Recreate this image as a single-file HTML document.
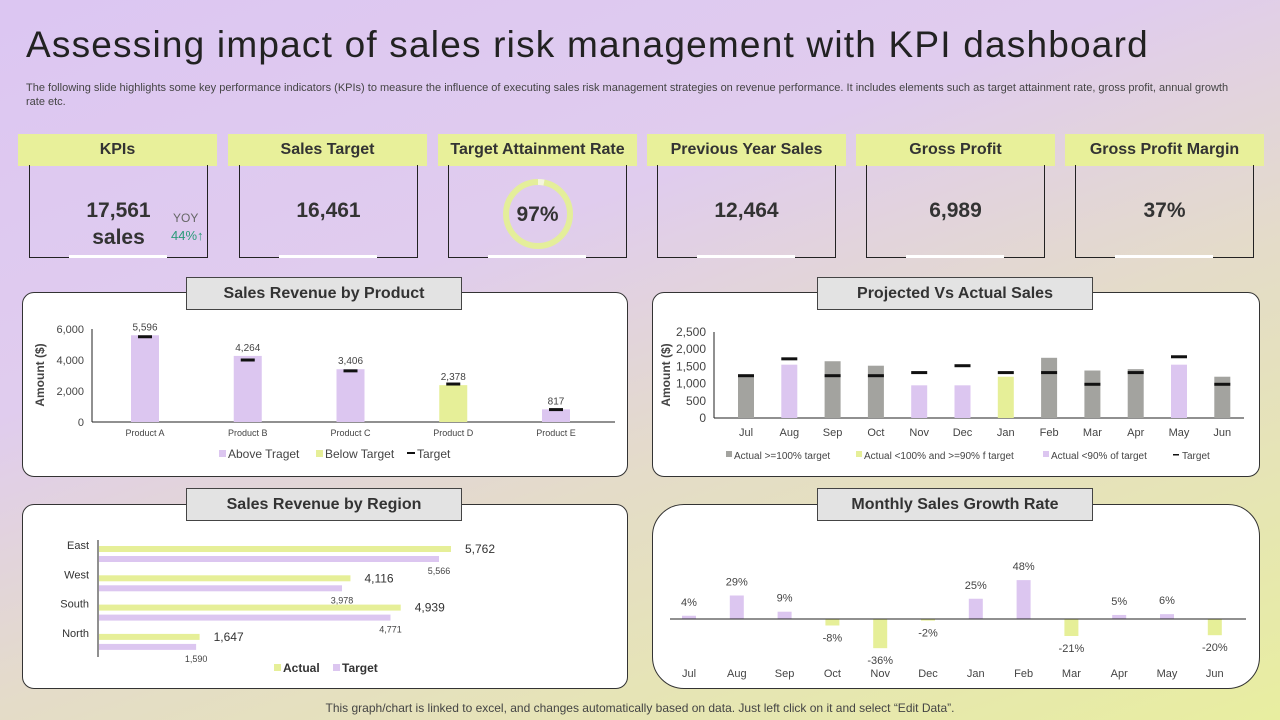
<!DOCTYPE html>
<html><head><meta charset="utf-8">
<style>
*{box-sizing:border-box;margin:0;padding:0}
body{width:1280px;height:720px;overflow:hidden;font-family:"Liberation Sans",sans-serif;position:relative;
background:linear-gradient(160deg,#dcc6f2 0%,#e0ccee 35%,#e4dcc8 60%,#e8eea0 100%);}
.abs{position:absolute}
h1{position:absolute;left:26px;top:24px;font-size:37px;font-weight:normal;color:#222;letter-spacing:1.2px;white-space:nowrap}
.sub{position:absolute;left:26px;top:81px;width:1212px;font-size:11px;color:#444;line-height:14px}
.kh{position:absolute;top:134px;width:199px;height:32px;background:#e8f09a;text-align:center;font-size:16px;font-weight:bold;color:#333;line-height:32px}
.kb{position:absolute;top:165px;width:179px;height:93px;border:1px solid #222;border-top:none}
.kb .w{position:absolute;bottom:-1px;left:39px;width:98px;height:3px;background:#fff}
.kv{position:absolute;width:100%;text-align:center;font-size:21px;font-weight:bold;color:#333}
.panel{position:absolute;background:#fff;border:1px solid #333;border-radius:12px}
.tb{position:absolute;background:#e3e3e3;border:1px solid #444;text-align:center;font-size:16px;font-weight:bold;color:#333;line-height:31px;width:276px;height:33px}
.foot{position:absolute;top:701px;left:0;width:1280px;text-align:center;font-size:12px;color:#444}
svg text{font-family:"Liberation Sans",sans-serif}
</style></head><body>
<h1>Assessing impact of sales risk management with KPI dashboard</h1>
<div class="sub">The following slide highlights some key performance indicators (KPIs) to measure the influence of executing sales risk management strategies on revenue performance. It includes elements such as target attainment rate, gross profit, annual growth rate etc.</div>

<div class="kh" style="left:18px">KPIs</div>
<div class="kb" style="left:29px"><div class="w"></div>
<div class="kv" style="top:32px;left:0;line-height:27px;font-size:21px">17,561<br>sales</div>
<div class="abs" style="left:143px;top:46px;font-size:12px;color:#666">YOY</div>
<div class="abs" style="left:141px;top:63px;font-size:13px;color:#2a9a7a">44%↑</div>
</div>
<div class="kh" style="left:228px">Sales Target</div>
<div class="kb" style="left:239px"><div class="w"></div><div class="kv" style="top:34px">16,461</div></div>
<div class="kh" style="left:438px">Target Attainment Rate</div>
<div class="kb" style="left:448px"><div class="w"></div>
<svg class="abs" style="left:52px;top:12px" width="74" height="74"><circle cx="37" cy="37" r="32" fill="none" stroke="#e4ee9a" stroke-width="6"/><path d="M37 5 A32 32 0 0 1 43 5.6" fill="none" stroke="#f4f6dc" stroke-width="6"/></svg>
<div class="kv" style="top:38px">97%</div></div>
<div class="kh" style="left:647px">Previous Year Sales</div>
<div class="kb" style="left:657px"><div class="w"></div><div class="kv" style="top:34px">12,464</div></div>
<div class="kh" style="left:856px">Gross Profit</div>
<div class="kb" style="left:866px"><div class="w"></div><div class="kv" style="top:34px">6,989</div></div>
<div class="kh" style="left:1065px">Gross Profit Margin</div>
<div class="kb" style="left:1075px"><div class="w"></div><div class="kv" style="top:34px">37%</div></div>

<div class="panel" style="left:22px;top:292px;width:606px;height:185px"></div>
<div class="panel" style="left:652px;top:292px;width:608px;height:185px"></div>
<div class="panel" style="left:22px;top:504px;width:606px;height:185px"></div>
<div class="panel" style="left:652px;top:504px;width:608px;height:185px;border-radius:32px"></div>

<svg class="abs" style="left:0;top:0" width="1280" height="720" id="charts"></svg>

<div class="tb" style="left:186px;top:277px">Sales Revenue by Product</div>
<div class="tb" style="left:817px;top:277px">Projected Vs Actual Sales</div>
<div class="tb" style="left:186px;top:488px">Sales Revenue by Region</div>
<div class="tb" style="left:817px;top:488px">Monthly Sales Growth Rate</div>
<div class="foot">This graph/chart is linked to excel, and changes automatically based on data. Just left click on it and select “Edit Data”.</div>

<script>
const LAV='#dcc6f0',GRN='#e6ef98',GRY='#a3a39f';
const prodCats=['Product A','Product B','Product C','Product D','Product E'];
const prodVals=[5596,4264,3406,2378,817];
const prodTargets=[5500,4000,3300,2450,800];
const prodStatus=['above','above','above','below','above'];
const prodTicks=[0,2000,4000,6000];
const months=['Jul','Aug','Sep','Oct','Nov','Dec','Jan','Feb','Mar','Apr','May','Jun'];
const actualVals=[1200,1550,1650,1520,950,950,1200,1750,1380,1420,1550,1200];
const targetVals=[1230,1720,1230,1230,1320,1520,1320,1320,980,1320,1780,980];
const projStatus=['met','low','met','met','low','low','near','met','met','met','low','met'];
const projTicks=[0,500,1000,1500,2000,2500];
const regions=['East','West','South','North'];
const regionActual=[5762,4116,4939,1647];
const regionTarget=[5566,3978,4771,1590];
const growth=[4,29,9,-8,-36,-2,25,48,-21,5,6,-20];

const svg=document.getElementById('charts');
const NS='http://www.w3.org/2000/svg';
function mk(tag,attrs,parent){const e=document.createElementNS(NS,tag);for(const k in attrs)e.setAttribute(k,attrs[k]);(parent||svg).appendChild(e);return e;}
function txt(x,y,s,size,fill,anchor,parent,extra){const t=mk('text',Object.assign({x:x,y:y,'font-size':size,fill:fill,'text-anchor':anchor||'middle'},extra||{}),parent);t.textContent=s;return t;}
const fmt=v=>v.toLocaleString('en-US');

// Chart 1
{const g=mk('g',{});


const y=v=>422-v/6000*93, x=i=>145+i*102.75;
prodTicks.forEach(t=>{txt(84,y(t)+4,fmt(t),11,'#444','end',g);});
mk('line',{x1:92,y1:329,x2:92,y2:422,stroke:'#222'},g);
mk('line',{x1:92,y1:422,x2:615,y2:422,stroke:'#222'},g);
txt(44,375,'Amount ($)',12,'#444','middle',g,{'font-weight':'bold',transform:'rotate(-90 44 375)'});
prodVals.forEach((v,i)=>{const below=prodStatus[i]==='below';
const r=mk('rect',{x:x(i)-14,y:y(v),width:28,height:422-y(v),fill:below?GRN:LAV},g);


const m=mk('rect',{x:x(i)-7,y:y(prodTargets[i])-1.5,width:14,height:3,fill:'#111'},g);


txt(x(i),y(v)-5,fmt(v),10,'#444','middle',g);
txt(x(i),436,prodCats[i],9,'#444','middle',g);});
mk('rect',{x:219,y:450,width:7,height:7,fill:LAV},g);txt(228,458,'Above Traget',12,'#444','start',g);
mk('rect',{x:316,y:450,width:7,height:7,fill:GRN},g);txt(325,458,'Below Target',12,'#444','start',g);
mk('rect',{x:407,y:452,width:8,height:2,fill:'#111'},g);txt(417,458,'Target',12,'#444','start',g);}

// Chart 2
{const g=mk('g',{});


const y=v=>418-v/2500*86, x=i=>746+i*43.3;
projTicks.forEach(t=>txt(706,y(t)+4,fmt(t),12,'#444','end',g));
mk('line',{x1:714,y1:332,x2:714,y2:418,stroke:'#222'},g);
mk('line',{x1:714,y1:418,x2:1244,y2:418,stroke:'#222'},g);
txt(670,375,'Amount ($)',12,'#444','middle',g,{'font-weight':'bold',transform:'rotate(-90 670 375)'});
const cmap={met:GRY,near:GRN,low:LAV};
actualVals.forEach((v,i)=>{const c=cmap[projStatus[i]];
const b=mk('rect',{x:x(i)-8,y:y(v),width:16,height:418-y(v),fill:c},g);


mk('rect',{x:x(i)-8,y:y(targetVals[i])-1.5,width:16,height:3,fill:'#111'},g);
txt(x(i),436,months[i],11,'#444','middle',g);});
mk('rect',{x:726,y:451,width:6,height:6,fill:GRY},g);txt(734,459,'Actual >=100% target',10,'#444','start',g);
mk('rect',{x:856,y:451,width:6,height:6,fill:GRN},g);txt(864,459,'Actual <100% and >=90% f target',10,'#444','start',g);
mk('rect',{x:1043,y:451,width:6,height:6,fill:LAV},g);txt(1051,459,'Actual <90% of target',10,'#444','start',g);
mk('rect',{x:1173,y:454,width:6,height:1.5,fill:'#111'},g);txt(1182,459,'Target',10,'#444','start',g);}

// Chart 3
{const g=mk('g',{});


const x=v=>98+v/5762*352, yb=i=>549+i*29.3;
mk('line',{x1:98,y1:540,x2:98,y2:657,stroke:'#222'},g);
regions.forEach((r,i)=>{const a=mk('rect',{x:99,y:yb(i)-3,width:x(regionActual[i])-98,height:6,fill:GRN},g);


const t=mk('rect',{x:99,y:yb(i)+7,width:x(regionTarget[i])-98,height:6,fill:LAV},g);


txt(89,yb(i)-0,r,11,'#333','end',g);
txt(x(regionActual[i])+15,yb(i)+4,fmt(regionActual[i]),12,'#333','start',g);
txt(x(regionTarget[i])+1,yb(i)+25,fmt(regionTarget[i]),9,'#444','middle',g);});
mk('rect',{x:274,y:664,width:7,height:7,fill:GRN},g);txt(283,672,'Actual',12,'#333','start',g,{'font-weight':'bold'});
mk('rect',{x:333,y:664,width:7,height:7,fill:LAV},g);txt(342,672,'Target',12,'#333','start',g,{'font-weight':'bold'});}

// Chart 4
{const g=mk('g',{});


const y0=619, h=v=>v*0.81, x=i=>689+i*47.8;
growth.forEach((v,i)=>{const c=v>=0?LAV:GRN;const top=v>=0?y0-h(v):y0;
const b=mk('rect',{x:x(i)-7,y:top,width:14,height:Math.max(Math.abs(h(v)),1),fill:c},g);


const ly=v>=0?y0-h(v)-10:y0-h(v)+16;
txt(x(i),ly,v+'%',11,'#444','middle',g);
txt(x(i),677,months[i],11,'#444','middle',g);});
mk('line',{x1:670,y1:y0,x2:1246,y2:y0,stroke:'#222'},g);}
</script>
</body></html>
